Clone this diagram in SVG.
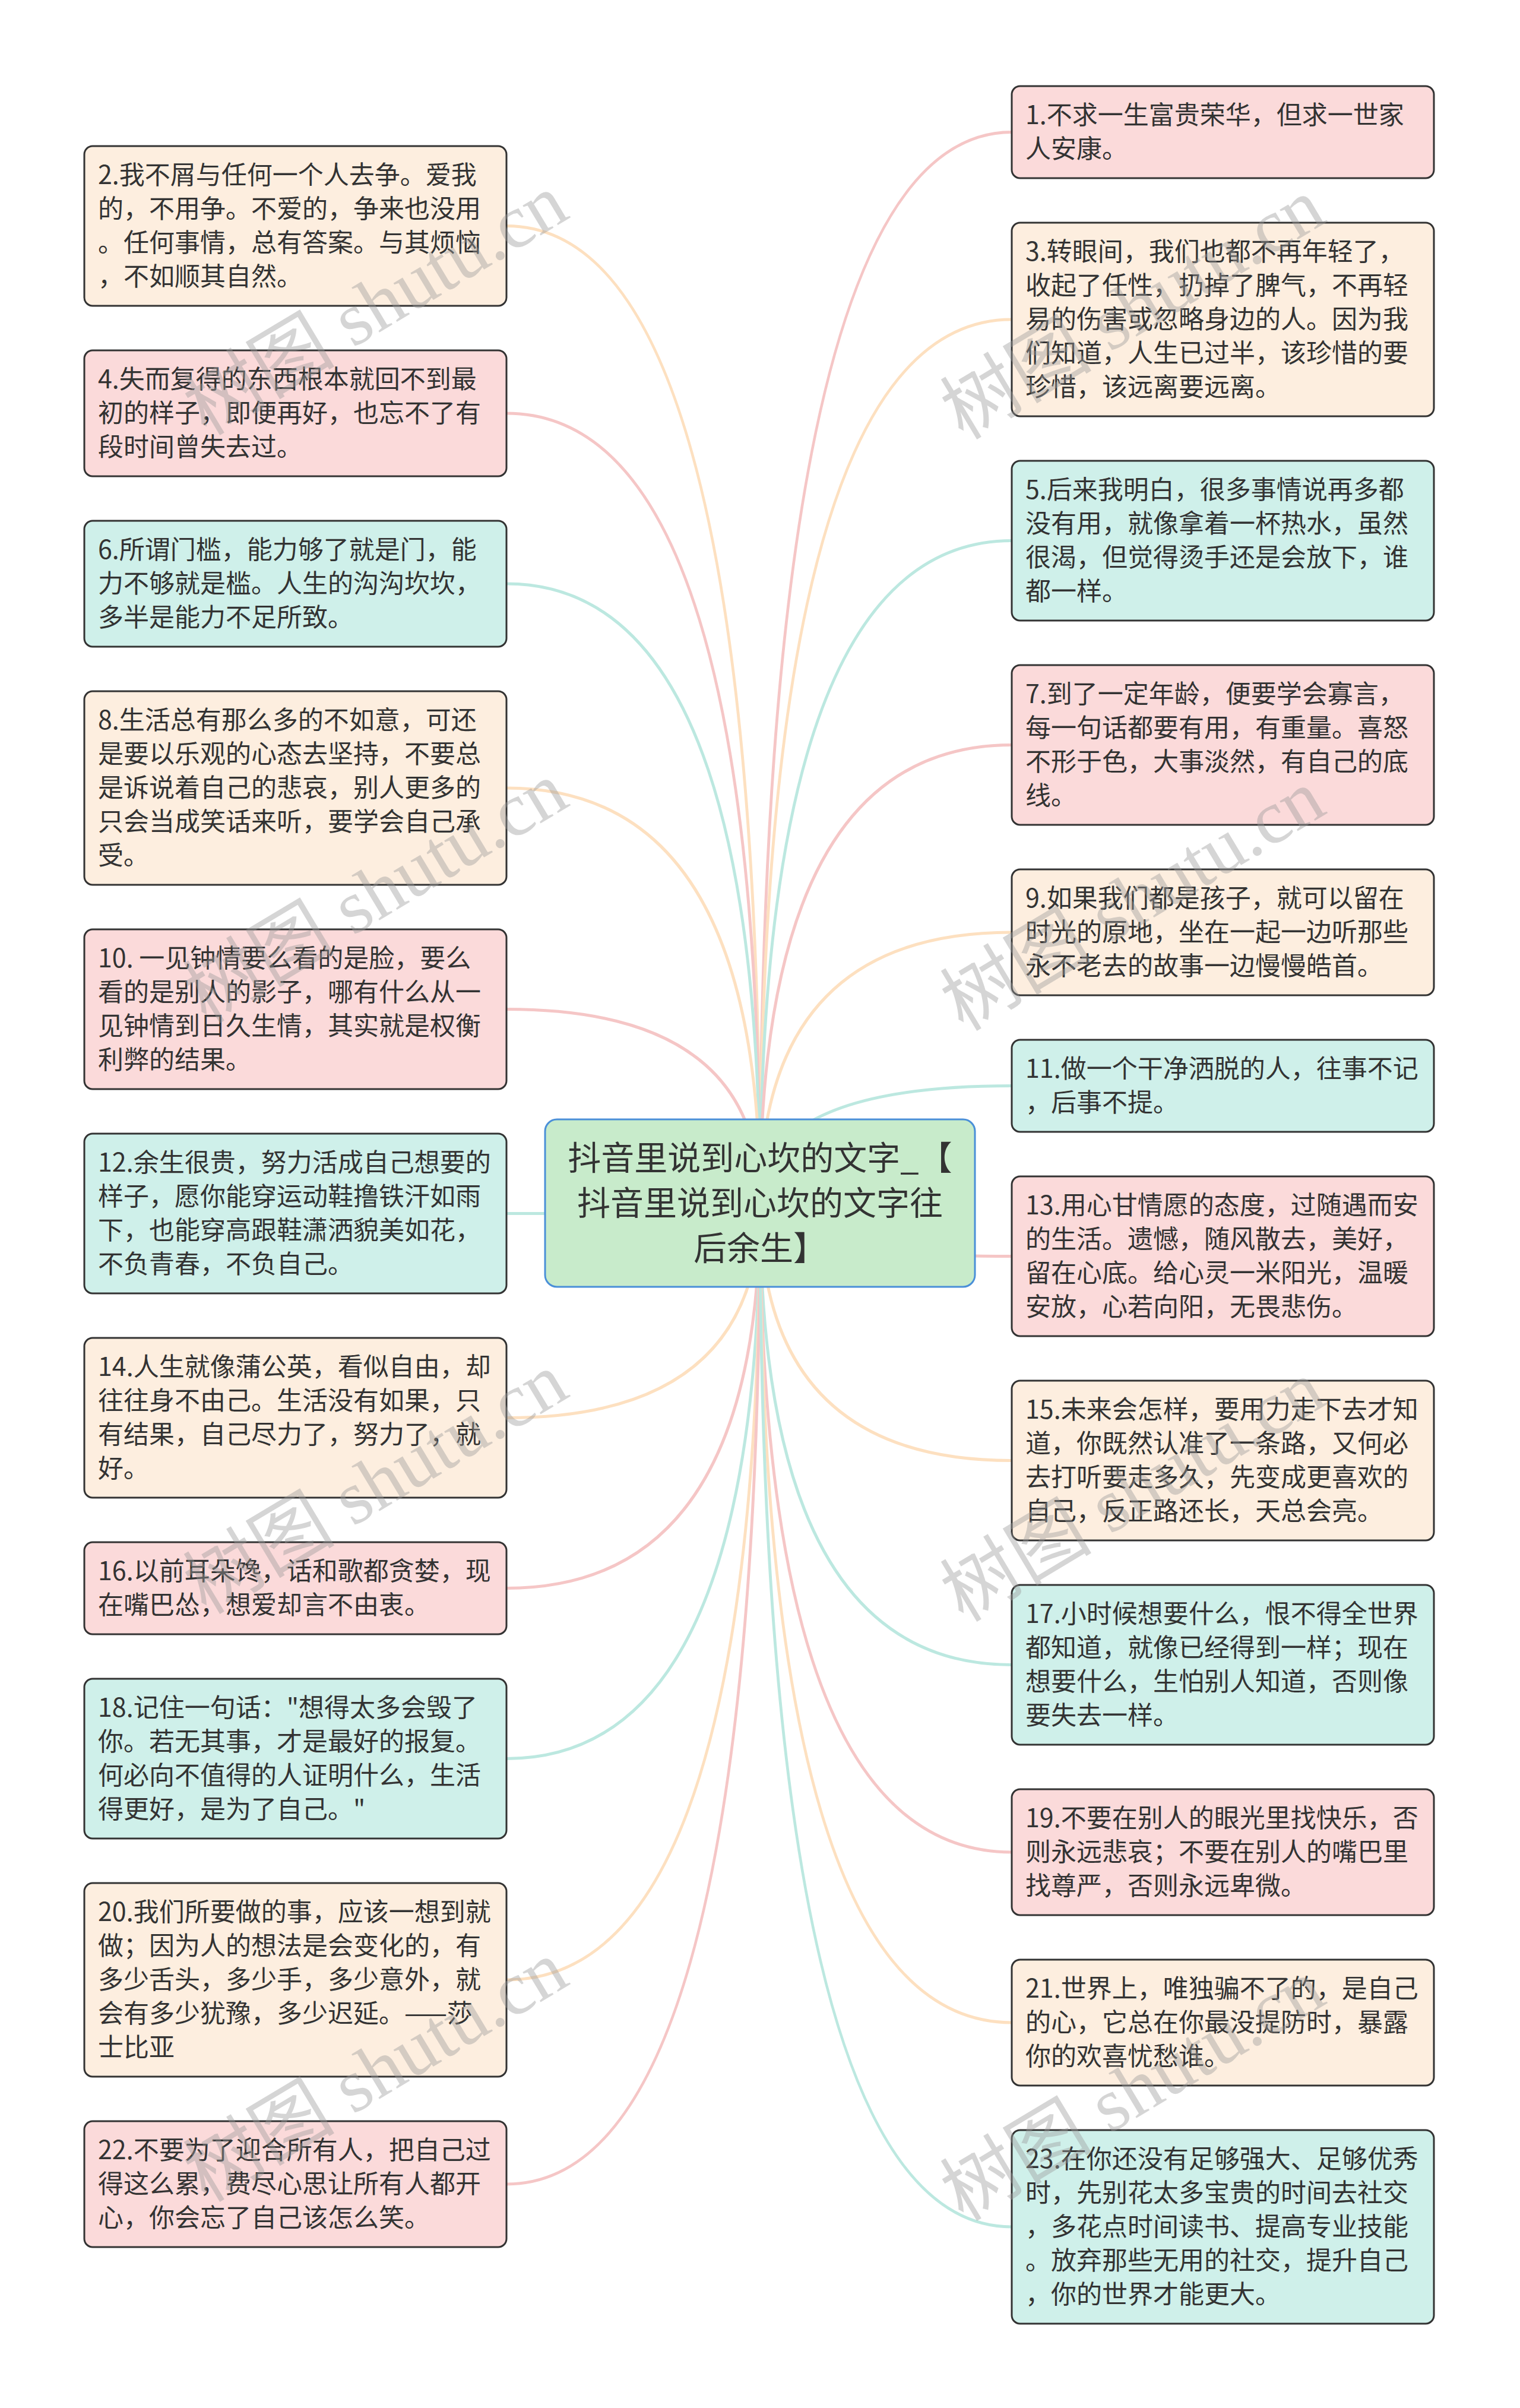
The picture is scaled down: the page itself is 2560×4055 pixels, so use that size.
<svg xmlns="http://www.w3.org/2000/svg" width="2560" height="4055" viewBox="0 0 2560 4055">
<style>
.bg{fill:#ffffff}
.edge{fill:none;stroke-width:5;stroke-linecap:round}
.ep{stroke:#f5c6c6}
.eo{stroke:#fde0c0}
.em{stroke:#bce8e0}
.box{stroke:#333333;stroke-width:3}
.pink{fill:#fbdada}
.peach{fill:#fdeedf}
.mint{fill:#cff0ea}
.t{font-family:"Noto Sans CJK SC","Noto Sans",sans-serif;font-size:43px;fill:#333333}
.ct{font-family:"Noto Sans CJK SC","Noto Sans",sans-serif;font-size:56px;fill:#333333;text-anchor:middle}
.wm{font-family:"Liberation Serif","Noto Sans CJK SC",serif;font-size:128px;fill:#9a9a9a;fill-opacity:0.42;text-anchor:middle}
</style>
<rect class="bg" x="0" y="0" width="2560" height="4055"/>
<g id="connectors">
<path class="edge ep" d="M1280,2026 Q1280,222.5 1704,222.5"/>
<path class="edge eo" d="M1280,2026 Q1280,380.5 853,380.5"/>
<path class="edge eo" d="M1280,2026 Q1280,538 1704,538"/>
<path class="edge ep" d="M1280,2026 Q1280,696 853,696"/>
<path class="edge em" d="M1280,2026 Q1280,910.5 1704,910.5"/>
<path class="edge em" d="M1280,2026 Q1280,983 853,983"/>
<path class="edge ep" d="M1280,2026 Q1280,1254.5 1704,1254.5"/>
<path class="edge eo" d="M1280,2026 Q1280,1327 853,1327"/>
<path class="edge eo" d="M1280,2026 Q1280,1570 1704,1570"/>
<path class="edge ep" d="M1280,2026 Q1280,1699.5 853,1699.5"/>
<path class="edge em" d="M1280,2026 Q1280,1828.5 1704,1828.5"/>
<path class="edge em" d="M1280,2026 Q1280,2043.5 853,2043.5"/>
<path class="edge ep" d="M1280,2026 Q1280,2115.5 1704,2115.5"/>
<path class="edge eo" d="M1280,2026 Q1280,2387.5 853,2387.5"/>
<path class="edge eo" d="M1280,2026 Q1280,2459.5 1704,2459.5"/>
<path class="edge ep" d="M1280,2026 Q1280,2674.5 853,2674.5"/>
<path class="edge em" d="M1280,2026 Q1280,2803.5 1704,2803.5"/>
<path class="edge em" d="M1280,2026 Q1280,2961.5 853,2961.5"/>
<path class="edge ep" d="M1280,2026 Q1280,3119 1704,3119"/>
<path class="edge eo" d="M1280,2026 Q1280,3334 853,3334"/>
<path class="edge eo" d="M1280,2026 Q1280,3406 1704,3406"/>
<path class="edge ep" d="M1280,2026 Q1280,3678 853,3678"/>
<path class="edge em" d="M1280,2026 Q1280,3750 1704,3750"/>
</g>
<g id="center">
<rect x="918" y="1885" width="724" height="282" rx="20" fill="#c8ebcb" stroke="#4a8fd8" stroke-width="3"/>
<text class="ct" x="1280" y="1970">抖音里说到心坎的文字_【</text>
<text class="ct" x="1280" y="2046">抖音里说到心坎的文字往</text>
<text class="ct" x="1280" y="2122">后余生】</text>
</g>
<g id="n1"><rect class="box pink" x="1704" y="145" width="711" height="155" rx="14"/>
<text class="t" x="1727" y="209">1.不求一生富贵荣华，但求一世家</text>
<text class="t" x="1727" y="266">人安康。</text></g>
<g id="n2"><rect class="box peach" x="142" y="246" width="711" height="269" rx="14"/>
<text class="t" x="165" y="310">2.我不屑与任何一个人去争。爱我</text>
<text class="t" x="165" y="367">的，不用争。不爱的，争来也没用</text>
<text class="t" x="165" y="424">。任何事情，总有答案。与其烦恼</text>
<text class="t" x="165" y="481">，不如顺其自然。</text></g>
<g id="n3"><rect class="box peach" x="1704" y="375" width="711" height="326" rx="14"/>
<text class="t" x="1727" y="439">3.转眼间，我们也都不再年轻了，</text>
<text class="t" x="1727" y="496">收起了任性，扔掉了脾气，不再轻</text>
<text class="t" x="1727" y="553">易的伤害或忽略身边的人。因为我</text>
<text class="t" x="1727" y="610">们知道，人生已过半，该珍惜的要</text>
<text class="t" x="1727" y="667">珍惜，该远离要远离。</text></g>
<g id="n4"><rect class="box pink" x="142" y="590" width="711" height="212" rx="14"/>
<text class="t" x="165" y="654">4.失而复得的东西根本就回不到最</text>
<text class="t" x="165" y="711">初的样子，即便再好，也忘不了有</text>
<text class="t" x="165" y="768">段时间曾失去过。</text></g>
<g id="n5"><rect class="box mint" x="1704" y="776" width="711" height="269" rx="14"/>
<text class="t" x="1727" y="840">5.后来我明白，很多事情说再多都</text>
<text class="t" x="1727" y="897">没有用，就像拿着一杯热水，虽然</text>
<text class="t" x="1727" y="954">很渴，但觉得烫手还是会放下，谁</text>
<text class="t" x="1727" y="1011">都一样。</text></g>
<g id="n6"><rect class="box mint" x="142" y="877" width="711" height="212" rx="14"/>
<text class="t" x="165" y="941">6.所谓门槛，能力够了就是门，能</text>
<text class="t" x="165" y="998">力不够就是槛。人生的沟沟坎坎，</text>
<text class="t" x="165" y="1055">多半是能力不足所致。</text></g>
<g id="n7"><rect class="box pink" x="1704" y="1120" width="711" height="269" rx="14"/>
<text class="t" x="1727" y="1184">7.到了一定年龄，便要学会寡言，</text>
<text class="t" x="1727" y="1241">每一句话都要有用，有重量。喜怒</text>
<text class="t" x="1727" y="1298">不形于色，大事淡然，有自己的底</text>
<text class="t" x="1727" y="1355">线。</text></g>
<g id="n8"><rect class="box peach" x="142" y="1164" width="711" height="326" rx="14"/>
<text class="t" x="165" y="1228">8.生活总有那么多的不如意，可还</text>
<text class="t" x="165" y="1285">是要以乐观的心态去坚持，不要总</text>
<text class="t" x="165" y="1342">是诉说着自己的悲哀，别人更多的</text>
<text class="t" x="165" y="1399">只会当成笑话来听，要学会自己承</text>
<text class="t" x="165" y="1456">受。</text></g>
<g id="n9"><rect class="box peach" x="1704" y="1464" width="711" height="212" rx="14"/>
<text class="t" x="1727" y="1528">9.如果我们都是孩子，就可以留在</text>
<text class="t" x="1727" y="1585">时光的原地，坐在一起一边听那些</text>
<text class="t" x="1727" y="1642">永不老去的故事一边慢慢皓首。</text></g>
<g id="n10"><rect class="box pink" x="142" y="1565" width="711" height="269" rx="14"/>
<text class="t" x="165" y="1629">10. 一见钟情要么看的是脸，要么</text>
<text class="t" x="165" y="1686">看的是别人的影子，哪有什么从一</text>
<text class="t" x="165" y="1743">见钟情到日久生情，其实就是权衡</text>
<text class="t" x="165" y="1800">利弊的结果。</text></g>
<g id="n11"><rect class="box mint" x="1704" y="1751" width="711" height="155" rx="14"/>
<text class="t" x="1727" y="1815">11.做一个干净洒脱的人，往事不记</text>
<text class="t" x="1727" y="1872">，后事不提。</text></g>
<g id="n12"><rect class="box mint" x="142" y="1909" width="711" height="269" rx="14"/>
<text class="t" x="165" y="1973">12.余生很贵，努力活成自己想要的</text>
<text class="t" x="165" y="2030">样子，愿你能穿运动鞋撸铁汗如雨</text>
<text class="t" x="165" y="2087">下，也能穿高跟鞋潇洒貌美如花，</text>
<text class="t" x="165" y="2144">不负青春，不负自己。</text></g>
<g id="n13"><rect class="box pink" x="1704" y="1981" width="711" height="269" rx="14"/>
<text class="t" x="1727" y="2045">13.用心甘情愿的态度，过随遇而安</text>
<text class="t" x="1727" y="2102">的生活。遗憾，随风散去，美好，</text>
<text class="t" x="1727" y="2159">留在心底。给心灵一米阳光，温暖</text>
<text class="t" x="1727" y="2216">安放，心若向阳，无畏悲伤。</text></g>
<g id="n14"><rect class="box peach" x="142" y="2253" width="711" height="269" rx="14"/>
<text class="t" x="165" y="2317">14.人生就像蒲公英，看似自由，却</text>
<text class="t" x="165" y="2374">往往身不由己。生活没有如果，只</text>
<text class="t" x="165" y="2431">有结果，自己尽力了，努力了，就</text>
<text class="t" x="165" y="2488">好。</text></g>
<g id="n15"><rect class="box peach" x="1704" y="2325" width="711" height="269" rx="14"/>
<text class="t" x="1727" y="2389">15.未来会怎样，要用力走下去才知</text>
<text class="t" x="1727" y="2446">道，你既然认准了一条路，又何必</text>
<text class="t" x="1727" y="2503">去打听要走多久，先变成更喜欢的</text>
<text class="t" x="1727" y="2560">自己，反正路还长，天总会亮。</text></g>
<g id="n16"><rect class="box pink" x="142" y="2597" width="711" height="155" rx="14"/>
<text class="t" x="165" y="2661">16.以前耳朵馋，话和歌都贪婪，现</text>
<text class="t" x="165" y="2718">在嘴巴怂，想爱却言不由衷。</text></g>
<g id="n17"><rect class="box mint" x="1704" y="2669" width="711" height="269" rx="14"/>
<text class="t" x="1727" y="2733">17.小时候想要什么，恨不得全世界</text>
<text class="t" x="1727" y="2790">都知道，就像已经得到一样；现在</text>
<text class="t" x="1727" y="2847">想要什么，生怕别人知道，否则像</text>
<text class="t" x="1727" y="2904">要失去一样。</text></g>
<g id="n18"><rect class="box mint" x="142" y="2827" width="711" height="269" rx="14"/>
<text class="t" x="165" y="2891">18.记住一句话："想得太多会毁了</text>
<text class="t" x="165" y="2948">你。若无其事，才是最好的报复。</text>
<text class="t" x="165" y="3005">何必向不值得的人证明什么，生活</text>
<text class="t" x="165" y="3062">得更好，是为了自己。"</text></g>
<g id="n19"><rect class="box pink" x="1704" y="3013" width="711" height="212" rx="14"/>
<text class="t" x="1727" y="3077">19.不要在别人的眼光里找快乐，否</text>
<text class="t" x="1727" y="3134">则永远悲哀；不要在别人的嘴巴里</text>
<text class="t" x="1727" y="3191">找尊严，否则永远卑微。</text></g>
<g id="n20"><rect class="box peach" x="142" y="3171" width="711" height="326" rx="14"/>
<text class="t" x="165" y="3235">20.我们所要做的事，应该一想到就</text>
<text class="t" x="165" y="3292">做；因为人的想法是会变化的，有</text>
<text class="t" x="165" y="3349">多少舌头，多少手，多少意外，就</text>
<text class="t" x="165" y="3406">会有多少犹豫，多少迟延。——莎</text>
<text class="t" x="165" y="3463">士比亚</text></g>
<g id="n21"><rect class="box peach" x="1704" y="3300" width="711" height="212" rx="14"/>
<text class="t" x="1727" y="3364">21.世界上，唯独骗不了的，是自己</text>
<text class="t" x="1727" y="3421">的心，它总在你最没提防时，暴露</text>
<text class="t" x="1727" y="3478">你的欢喜忧愁谁。</text></g>
<g id="n22"><rect class="box pink" x="142" y="3572" width="711" height="212" rx="14"/>
<text class="t" x="165" y="3636">22.不要为了迎合所有人，把自己过</text>
<text class="t" x="165" y="3693">得这么累，费尽心思让所有人都开</text>
<text class="t" x="165" y="3750">心，你会忘了自己该怎么笑。</text></g>
<g id="n23"><rect class="box mint" x="1704" y="3587" width="711" height="326" rx="14"/>
<text class="t" x="1727" y="3651">23.在你还没有足够强大、足够优秀</text>
<text class="t" x="1727" y="3708">时，先别花太多宝贵的时间去社交</text>
<text class="t" x="1727" y="3765">，多花点时间读书、提高专业技能</text>
<text class="t" x="1727" y="3822">。放弃那些无用的社交，提升自己</text>
<text class="t" x="1727" y="3879">，你的世界才能更大。</text></g>
<g id="watermark">
<text class="wm" transform="translate(655,550) rotate(-31)">树图 shutu.cn</text>
<text class="wm" transform="translate(655,1540) rotate(-31)">树图 shutu.cn</text>
<text class="wm" transform="translate(655,2535) rotate(-31)">树图 shutu.cn</text>
<text class="wm" transform="translate(655,3525) rotate(-31)">树图 shutu.cn</text>
<text class="wm" transform="translate(1930,557) rotate(-31)">树图 shutu.cn</text>
<text class="wm" transform="translate(1930,1553) rotate(-31)">树图 shutu.cn</text>
<text class="wm" transform="translate(1930,2548) rotate(-31)">树图 shutu.cn</text>
<text class="wm" transform="translate(1930,3557) rotate(-31)">树图 shutu.cn</text>
</g>
</svg>
